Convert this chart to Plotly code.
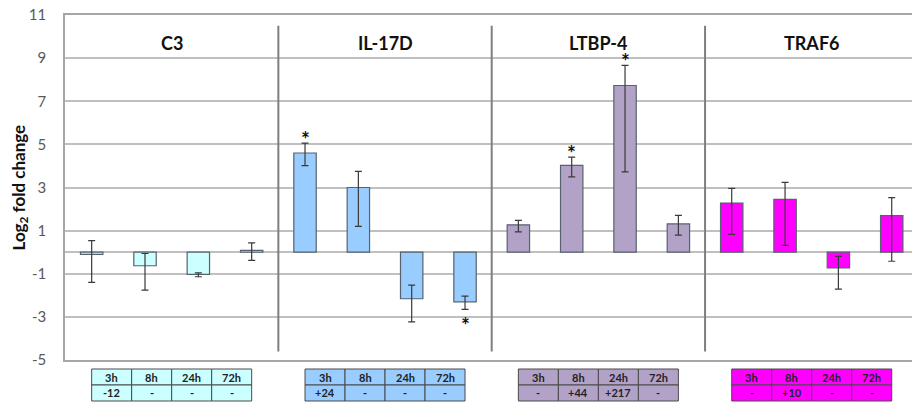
import plotly.graph_objects as go

# ---------------- data ----------------
genes = ["C3", "IL-17D", "LTBP-4", "TRAF6"]
timepoints = ["3h", "8h", "24h", "72h"]
gene_colors = ["#CCFFFF", "#99CCFF", "#B3A2C7", "#FF00FF"]

c3_values = [-0.1, -0.63, -1.03, 0.08]
c3_err_plus = [0.64, 0.57, 0.07, 0.35]
c3_err_minus = [1.30, 1.13, 0.11, 0.46]
c3_sig = [False, False, False, False]
c3_change = ["-12", "-", "-", "-"]

il17d_values = [4.60, 3.00, -2.16, -2.30]
il17d_err_plus = [0.46, 0.75, 0.63, 0.26]
il17d_err_minus = [0.59, 1.80, 1.07, 0.35]
il17d_sig = [True, False, False, True]
il17d_change = ["+24", "-", "-", "-"]

ltbp4_values = [1.27, 4.03, 7.73, 1.31]
ltbp4_err_plus = [0.21, 0.38, 0.93, 0.40]
ltbp4_err_minus = [0.33, 0.54, 4.01, 0.52]
ltbp4_sig = [False, True, True, False]
ltbp4_change = ["-", "+44", "+217", "-"]

traf6_values = [2.28, 2.45, -0.73, 1.70]
traf6_err_plus = [0.68, 0.79, 0.54, 0.83]
traf6_err_minus = [1.45, 2.13, 0.98, 2.12]
traf6_sig = [False, False, False, False]
traf6_change = ["-", "+10", "-", "-"]

y_ticks = [-5, -3, -1, 1, 3, 5, 7, 9, 11]

series = [
    (c3_values, c3_err_plus, c3_err_minus, c3_sig, c3_change),
    (il17d_values, il17d_err_plus, il17d_err_minus, il17d_sig, il17d_change),
    (ltbp4_values, ltbp4_err_plus, ltbp4_err_minus, ltbp4_sig, ltbp4_change),
    (traf6_values, traf6_err_plus, traf6_err_minus, traf6_sig, traf6_change),
]

# ---------------- layout geometry ----------------
W, H = 912, 403
M_L, M_R, M_T, M_B = 65, 0, 15, 43
plot_h = H - M_T - M_B


def py(pix):
    """pixel row -> paper y"""
    return (H - M_B - pix) / plot_h


FONT = "Lato, 'Open Sans', sans-serif"
fig = go.Figure()
shapes = []
annotations = []

for g, (name, color, (vals, ep, em, sig, chg)) in enumerate(zip(genes, gene_colors, series)):
    xs = [g * 4 + i for i in range(len(vals))]
    fig.add_trace(go.Bar(
        x=xs, y=vals, width=0.42, name=name,
        marker=dict(color=color, line=dict(color="#56636E", width=1.2)),
        error_y=dict(type="data", symmetric=False, array=ep, arrayminus=em,
                     color="#3A3A3A", thickness=1.2, width=3.5),
        showlegend=False, hoverinfo="x+y",
    ))
    # significance stars
    for i, s in enumerate(sig):
        if s:
            if vals[i] >= 0:
                annotations.append(dict(x=xs[i], y=vals[i] + ep[i], xref="x", yref="y",
                                        text="<b>*</b>", showarrow=False, yanchor="bottom",
                                        yshift=-10, font=dict(family=FONT, size=21, color="#111")))
            else:
                annotations.append(dict(x=xs[i], y=vals[i] - em[i], xref="x", yref="y",
                                        text="<b>*</b>", showarrow=False, yanchor="top",
                                        yshift=-1, font=dict(family=FONT, size=21, color="#111")))
    # gene title
    annotations.append(dict(x=g * 4 + 1.5, y=9.7, xref="x", yref="y", text=f"<b>{name}</b>",
                            showarrow=False, font=dict(family=FONT, size=18, color="#111")))
    # separator line
    if g > 0:
        shapes.append(dict(type="line", xref="x", yref="y", x0=g * 4 - 0.5, x1=g * 4 - 0.5,
                           y0=10.5, y1=-4.6, line=dict(color="#7F7F7F", width=2)))
    # table below
    top, mid, bot = py(369), py(385), py(401)
    cw = 0.75
    x_start = g * 4
    for c in range(4):
        x0 = x_start + c * cw
        x1 = x0 + cw
        for (y0, y1, txt) in [(mid, top, timepoints[c]), (bot, mid, chg[c])]:
            shapes.append(dict(type="rect", xref="x", yref="paper", x0=x0, x1=x1, y0=y0, y1=y1,
                               fillcolor=color, line=dict(color="#4A4A4A", width=1), layer="above"))
            annotations.append(dict(x=(x0 + x1) / 2, y=(y0 + y1) / 2, xref="x", yref="paper",
                                    text=f"<b>{txt}</b>", showarrow=False, yanchor="middle",
                                    font=dict(family=FONT, size=11, color="#222")))

# y-axis title
annotations.append(dict(x=(19 - M_L) / (W - M_L - M_R), xref="paper", y=0.5, yref="paper",
                        text="<b>Log<sub>2</sub> fold change</b>",
                        showarrow=False, textangle=-90, font=dict(family=FONT, size=17, color="#111"),
                        xanchor="center", yanchor="middle"))

fig.update_layout(
    width=W, height=H,
    margin=dict(l=M_L, r=M_R, t=M_T, b=M_B),
    paper_bgcolor="white", plot_bgcolor="white",
    bargap=0.5,
    shapes=shapes, annotations=annotations,
    xaxis=dict(range=[-0.5, 15.38], showticklabels=False, showgrid=False, zeroline=False,
               showline=True, linecolor="#A6A6A6", linewidth=1.5, mirror=True, ticks=""),
    yaxis=dict(range=[-5, 11], tickvals=y_ticks, ticktext=[str(v) for v in y_ticks],
               showgrid=True, gridcolor="#C0C0C0", gridwidth=1.5,
               zeroline=True, zerolinecolor="#C0C0C0", zerolinewidth=1.5,
               showline=True, linecolor="#A6A6A6", linewidth=1.5, mirror=False,
               ticks="", ticklabelstandoff=14,
               tickfont=dict(family=FONT, size=15, color="#595959")),
    font=dict(family=FONT),
)

fig.write_html("out.html", config={"displayModeBar": False},
               post_script="document.body.style.margin='0';document.body.style.overflow='hidden';")
